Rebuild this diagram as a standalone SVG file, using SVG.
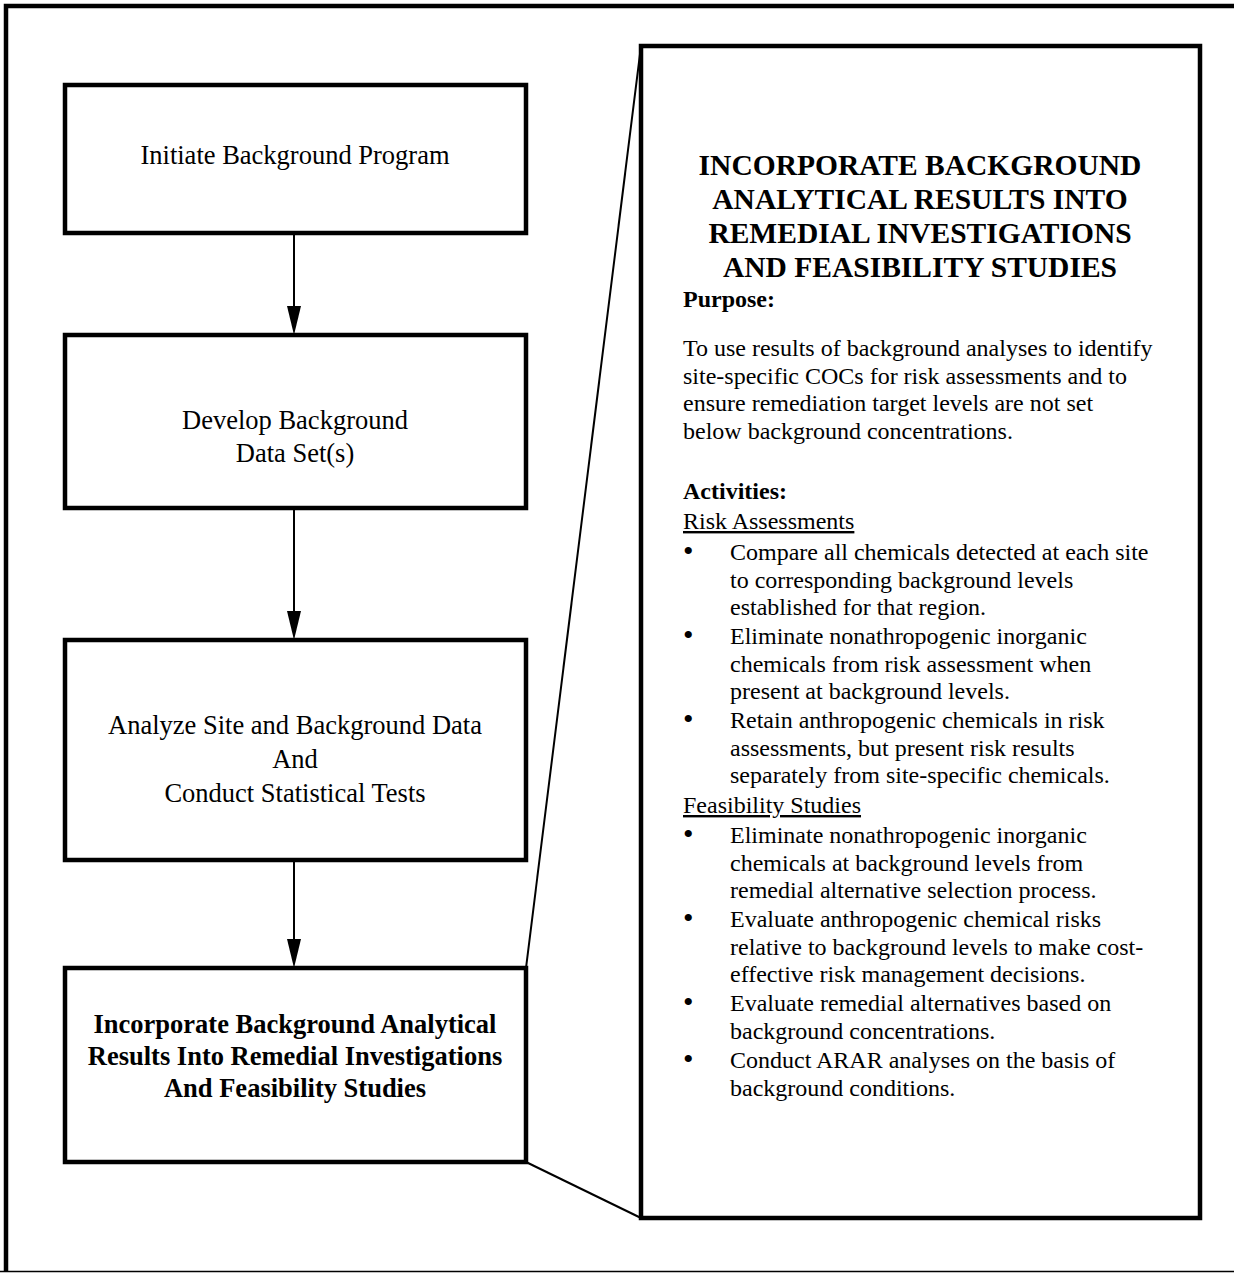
<svg xmlns="http://www.w3.org/2000/svg" width="1234" height="1273" viewBox="0 0 1234 1273">
<defs>
<style>
.box{fill:#fff;stroke:#000;stroke-width:4.5;stroke-linejoin:miter}
.t{font-family:"Liberation Serif","Times New Roman",serif;fill:#000}
.bt{font-size:26.5px;text-anchor:middle}
.bb{font-size:26.5px;text-anchor:middle;font-weight:bold}
.ti{font-size:29.5px;font-weight:bold;text-anchor:middle}
.h{font-size:24px;font-weight:bold}
.p{font-size:24px}
.b{font-size:30px}
.u{text-decoration:underline}
.conn{stroke:#000;stroke-width:2;fill:none}
</style>
</defs>
<rect width="1234" height="1273" fill="#fff"/>
<path d="M6,1271 L6,6 L1240,6" fill="none" stroke="#000" stroke-width="4.5"/>
<line x1="0" y1="1271.5" x2="1234" y2="1271.5" stroke="#000" stroke-width="1.5"/>

<g id="connectors">
<line class="conn" x1="294" y1="233" x2="294" y2="312"/>
<path d="M287,306 L294,335 L301,306 Z" fill="#000"/>
<line class="conn" x1="294" y1="508" x2="294" y2="617"/>
<path d="M287,611 L294,640 L301,611 Z" fill="#000"/>
<line class="conn" x1="294" y1="860" x2="294" y2="945"/>
<path d="M287,939 L294,968 L301,939 Z" fill="#000"/>
<line class="conn" x1="526" y1="968" x2="641" y2="46"/>
<line class="conn" x1="526" y1="1162" x2="641" y2="1218"/>
</g>

<g id="n1">
<rect class="box" x="65" y="85" width="461" height="148"/>
<text class="t bt" x="295" y="163.5">Initiate Background Program</text>
</g>
<g id="n2">
<rect class="box" x="65" y="335" width="461" height="173"/>
<text class="t bt" x="295" y="429">Develop Background</text>
<text class="t bt" x="295" y="462">Data Set(s)</text>
</g>
<g id="n3">
<rect class="box" x="65" y="640" width="461" height="220"/>
<text class="t bt" x="295" y="734">Analyze Site and Background Data</text>
<text class="t bt" x="295" y="768">And</text>
<text class="t bt" x="295" y="802">Conduct Statistical Tests</text>
</g>
<g id="n4">
<rect class="box" x="65" y="968" width="461" height="194"/>
<text class="t bb" x="295" y="1033">Incorporate Background Analytical</text>
<text class="t bb" x="295" y="1065">Results Into Remedial Investigations</text>
<text class="t bb" x="295" y="1097">And Feasibility Studies</text>
</g>
<g id="detail">
<rect class="box" x="641" y="46" width="559" height="1172"/>
<text class="t ti" x="920" y="175">INCORPORATE BACKGROUND</text>
<text class="t ti" x="920" y="209">ANALYTICAL RESULTS INTO</text>
<text class="t ti" x="920" y="243">REMEDIAL INVESTIGATIONS</text>
<text class="t ti" x="920" y="277">AND FEASIBILITY STUDIES</text>
<text class="t h" x="683" y="307">Purpose:</text>
<text class="t p" x="683" y="356">To use results of background analyses to identify</text>
<text class="t p" x="683" y="383.5">site-specific COCs for risk assessments and to</text>
<text class="t p" x="683" y="411">ensure remediation target levels are not set</text>
<text class="t p" x="683" y="438.5">below background concentrations.</text>
<text class="t h" x="683" y="499">Activities:</text>
<text class="t p u" x="683" y="529">Risk Assessments</text>
<g class="t b">
<text x="683" y="561">•</text>
<text x="683" y="645">•</text>
<text x="683" y="729">•</text>
<text x="683" y="844">•</text>
<text x="683" y="928">•</text>
<text x="683" y="1012">•</text>
<text x="683" y="1069">•</text>
</g>
<g class="t p">
<text x="730" y="560">Compare all chemicals detected at each site</text>
<text x="730" y="587.5">to corresponding background levels</text>
<text x="730" y="615">established for that region.</text>
<text x="730" y="644">Eliminate nonathropogenic inorganic</text>
<text x="730" y="671.5">chemicals from risk assessment when</text>
<text x="730" y="699">present at background levels.</text>
<text x="730" y="728">Retain anthropogenic chemicals in risk</text>
<text x="730" y="755.5">assessments, but present risk results</text>
<text x="730" y="783">separately from site-specific chemicals.</text>
</g>
<text class="t p u" x="683" y="813">Feasibility Studies</text>
<g class="t p">
<text x="730" y="843">Eliminate nonathropogenic inorganic</text>
<text x="730" y="870.5">chemicals at background levels from</text>
<text x="730" y="898">remedial alternative selection process.</text>
<text x="730" y="927">Evaluate anthropogenic chemical risks</text>
<text x="730" y="954.5">relative to background levels to make cost-</text>
<text x="730" y="982">effective risk management decisions.</text>
<text x="730" y="1011">Evaluate remedial alternatives based on</text>
<text x="730" y="1038.5">background concentrations.</text>
<text x="730" y="1068">Conduct ARAR analyses on the basis of</text>
<text x="730" y="1095.5">background conditions.</text>
</g>
</g>
</svg>
